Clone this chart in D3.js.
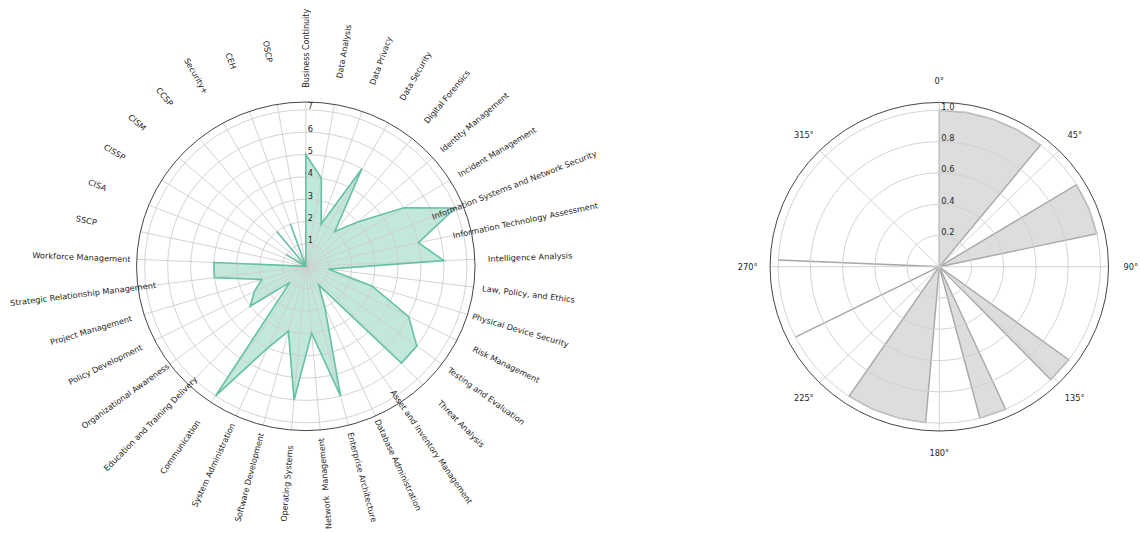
<!DOCTYPE html>
<html>
<head>
<meta charset="utf-8">
<script src="https://cdn.jsdelivr.net/npm/d3@7"></script>
<style>
  html, body { margin: 0; padding: 0; background: #fff; }
  svg { display: block; font-family: "DejaVu Sans", sans-serif; }
</style>
</head>
<body>
<svg id="chart" width="1140" height="533"></svg>
<script>
// Skill areas, listed clockwise from the top
const categories = [
  "Business Continuity", "Data Analysis", "Data Privacy", "Data Security",
  "Digital Forensics", "Identity Management", "Incident Management",
  "Information Systems and Network Security", "Information Technology Assessment",
  "Intelligence Analysis", "Law, Policy, and Ethics", "Physical Device Security",
  "Risk Management", "Testing and Evaluation", "Threat Analysis",
  "Asset and Inventory Management", "Database Administration", "Enterprise Architecture",
  "Network\u00a0 Management", "Operating Systems", "Software Development",
  "System Administration", "Communication", "Education and Training Delivery",
  "Organizational Awareness", "Policy Development", "Project Management",
  "Strategic Relationship Management", "Workforce Management", "SSCP", "CISA",
  "CISSP", "CISM", "CCSP", "Security+", "CEH", "OSCP"
];

// Proficiency level per skill area (0-7)
const skillLevels = [
  5, 4, 2, 5, 2, 3, 5, 7, 5, 6,
  1, 3, 5, 6, 6, 1, 2, 6, 3, 6,
  3, 4, 7, 1, 3, 2.5, 2, 4, 4, 0,
  0, 1, 0, 2, 0, 2, 0
];

// Coverage flag per skill area (0 or 1)
const coverage = [
  1, 1, 1, 1, 1, 0, 1, 1, 1, 0,
  0, 0, 0, 1, 1, 0, 1, 1, 0, 1,
  1, 1, 1, 0, 0, 1, 0, 0, 1, 0,
  0, 0, 0, 0, 0, 0, 0
];

const skillTicks = [1, 2, 3, 4, 5, 6, 7];
const coverageTicks = [0.2, 0.4, 0.6, 0.8, 1.0];
const angleTicks = [0, 45, 90, 135, 180, 225, 270, 315];

const svg = d3.select("#chart");
const N = categories.length;
const R = 164.3;          // radius of the outer frame
const xStretch = 1.03;    // figure aspect
const gridColor = "#cfcfcf";
const textColor = "#262626";

const angle = d3.scaleLinear().domain([0, N]).range([0, 2 * Math.PI]);
const deg = d3.scaleLinear().domain([0, 360]).range([0, 2 * Math.PI]);

// ---------- left: radar of skill levels ----------
const rSkill = d3.scaleLinear().domain([0, 7.35]).range([0, R]);
const left = svg.append("g")
  .attr("transform", `translate(305.8,266.3) scale(${xStretch},1)`);

const radar = d3.lineRadial()
  .angle((d, i) => angle(i))
  .radius(d => rSkill(d))
  .curve(d3.curveLinearClosed);

left.append("path")
  .attr("d", radar(skillLevels))
  .attr("fill", "#66c2a5")
  .attr("fill-opacity", 0.4)
  .attr("stroke", "none");

const leftGrid = left.append("g").attr("fill", "none").attr("stroke", gridColor).attr("stroke-width", 0.9);
leftGrid.selectAll("circle")
  .data(skillTicks)
  .join("circle")
  .attr("r", d => rSkill(d));
leftGrid.selectAll("line")
  .data(d3.range(N))
  .join("line")
  .attr("x1", 0).attr("y1", 0)
  .attr("x2", i => R * Math.sin(angle(i)))
  .attr("y2", i => -R * Math.cos(angle(i)));

left.append("path")
  .attr("d", radar(skillLevels))
  .attr("fill", "none")
  .attr("stroke", "#66c2a5")
  .attr("stroke-width", 1.6)
  .attr("stroke-linejoin", "miter");

left.append("circle")
  .attr("r", R)
  .attr("fill", "none")
  .attr("stroke", "#333")
  .attr("stroke-width", 0.9);

left.append("g").selectAll("text")
  .data(skillTicks)
  .join("text")
  .attr("x", 2)
  .attr("y", d => -rSkill(d) - 0.5)
  .attr("font-size", 8)
  .attr("fill", textColor)
  .text(d => d);

const labelR = 218;
left.append("g").selectAll("text")
  .data(categories)
  .join("text")
  .attr("transform", (d, i) => {
    const a = angle(i);
    const t = a * 180 / Math.PI;
    const rot = t < 170 ? t - 90 : t + 90;
    return `translate(${labelR * Math.sin(a)},${-labelR * Math.cos(a)}) rotate(${rot})`;
  })
  .attr("text-anchor", "middle")
  .attr("dominant-baseline", "central")
  .attr("font-size", 8)
  .attr("fill", textColor)
  .text(d => d);

// ---------- right: coverage ----------
const rCov = d3.scaleLinear().domain([0, 1.05]).range([0, R]);
const right = svg.append("g")
  .attr("transform", `translate(939.3,266.7) scale(${xStretch},1)`);

right.append("path")
  .attr("fill", "#dddddd")
  .attr("stroke", "#a8a8a8")
  .attr("stroke-width", 1.4)
  .attr("stroke-linejoin", "miter")
  .attr("d", d3.lineRadial()
    .angle((d, i) => angle(i))
    .radius(d => rCov(d))
    .curve(d3.curveLinearClosed)(coverage));

const rightGrid = right.append("g").attr("fill", "none").attr("stroke", gridColor).attr("stroke-width", 0.9);
rightGrid.selectAll("circle")
  .data(coverageTicks)
  .join("circle")
  .attr("r", d => rCov(d));
rightGrid.selectAll("line")
  .data(angleTicks)
  .join("line")
  .attr("x1", 0).attr("y1", 0)
  .attr("x2", d => R * Math.sin(deg(d)))
  .attr("y2", d => -R * Math.cos(deg(d)));

right.append("circle")
  .attr("r", R)
  .attr("fill", "none")
  .attr("stroke", "#333")
  .attr("stroke-width", 0.9);

right.append("g").selectAll("text")
  .data(coverageTicks)
  .join("text")
  .attr("x", 2)
  .attr("y", d => -rCov(d) - 0.5)
  .attr("font-size", 8)
  .attr("fill", textColor)
  .text(d => d3.format(".1f")(d));

const thetaR = 186;
right.append("g").selectAll("text")
  .data(angleTicks)
  .join("text")
  .attr("x", d => thetaR * Math.sin(deg(d)))
  .attr("y", d => -thetaR * Math.cos(deg(d)))
  .attr("text-anchor", "middle")
  .attr("dominant-baseline", "central")
  .attr("font-size", 8)
  .attr("fill", textColor)
  .text(d => d + "\u00b0");
</script>
</body>
</html>
